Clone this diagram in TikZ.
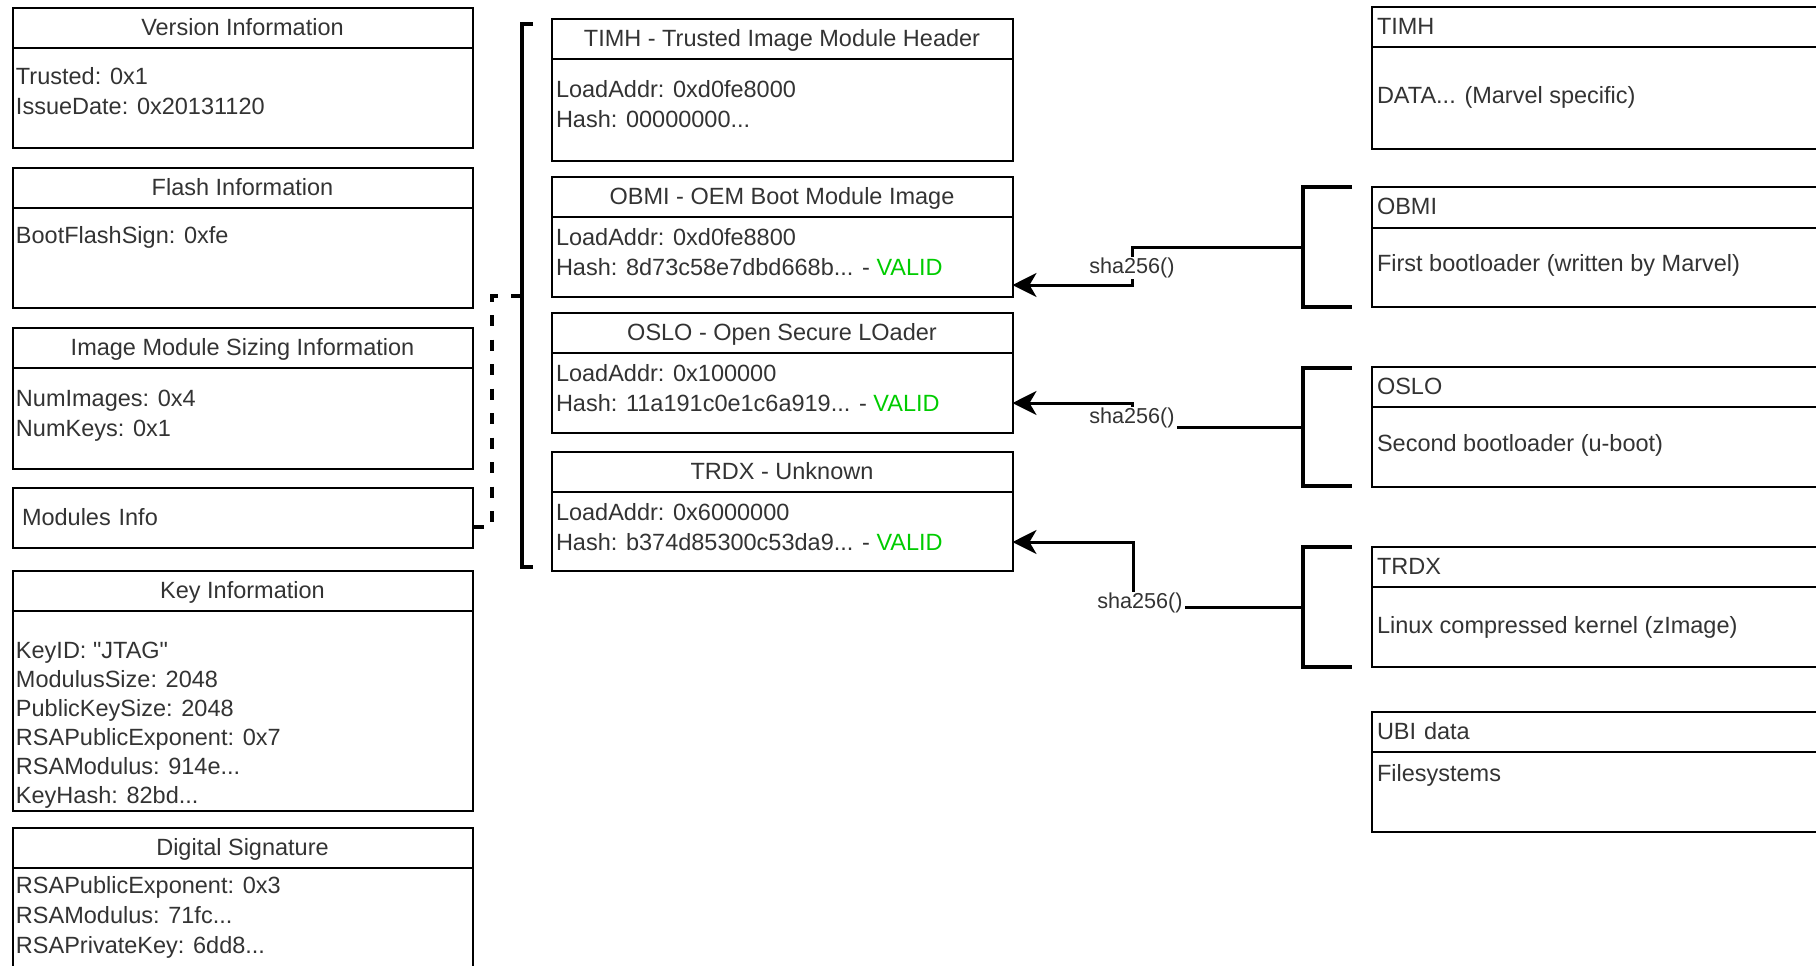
\documentclass[tikz,border=0pt]{standalone}
\usepackage{fontspec}
\setmainfont{Liberation Sans}
\usetikzlibrary{positioning,arrows.meta}
\definecolor{validgreen}{HTML}{00CC00}
\definecolor{inktext}{HTML}{333333}

\begin{document}
\begin{tikzpicture}[x=0.5pt, y=-0.5pt, every node/.style={inner sep=0pt, outer sep=0pt}]
\tikzset{
  sechead/.style={draw, line width=1pt, minimum height=20pt, text height=8.6pt, text depth=1.5pt, font=\fontsize{11.75}{14.5}\selectfont, text=inktext},
  leftcol/.style={minimum width=230pt},
  midcol/.style={minimum width=230.5pt},
  rightcol/.style={text width=224pt, inner xsep=2.5pt, align=left},
  secbody/.style={draw, line width=1pt},
  field/.style={anchor=base west, font=\fontsize{11.75}{14.5}\selectfont, text=inktext},
  hashlbl/.style={fill=white, font=\fontsize{10.8}{13}\selectfont, text height=7.8pt, text depth=2pt, inner xsep=1pt, inner ysep=0.5pt, text=inktext},
  hashlink/.style={line width=1.5pt, -{Stealth[length=12pt, width=12pt, inset=3.5pt]}},
  bracket/.style={line width=1.6pt},
  modlink/.style={line width=1.7pt, dash pattern=on 5.5pt off 6.75pt}
}
\clip (0,0) rectangle (1816,965);

% left column: header fields
\node[sechead, leftcol, anchor=north west] (verhd) at (12.5,8) {Version Information};
\node[secbody, leftcol, minimum height=50pt, below=0pt of verhd] (verbd) {};
\node[field] (vertrust) at (16,84) {Trusted: 0x1};
\node[field] (verdate) at (16,114) {IssueDate: 0x20131120};

\node[sechead, leftcol, anchor=north west] (flashhd) at (12.5,168) {Flash Information};
\node[secbody, leftcol, minimum height=50pt, below=0pt of flashhd] (flashbd) {};
\node[field] (flashsign) at (16,243) {BootFlashSign: 0xfe};

\node[sechead, leftcol, anchor=north west] (sizehd) at (12.5,328) {Image Module Sizing Information};
\node[secbody, leftcol, minimum height=50.5pt, below=0pt of sizehd] (sizebd) {};
\node[field] (sizeimg) at (16,406) {NumImages: 0x4};
\node[field] (sizekey) at (16,436) {NumKeys: 0x1};

\node[sechead, leftcol, anchor=north west, minimum height=30pt, text width=220.5pt, inner xsep=4.75pt, align=left] (modinfo) at (12.5,488) {Modules Info};

\node[sechead, leftcol, anchor=north west] (keyhd) at (12.5,571) {Key Information};
\node[secbody, leftcol, minimum height=100pt, below=0pt of keyhd] (keybd) {};
\foreach \t [count=\i from 0] in {KeyID: \textquotedbl JTAG\textquotedbl, ModulusSize: 2048, PublicKeySize: 2048, RSAPublicExponent: 0x7, RSAModulus: 914e.{}.{}., KeyHash: 82bd.{}.{}.}
  \node[field] (key\i) at (16,658+29*\i) {\t};

\node[sechead, leftcol, anchor=north west] (sighd) at (12.5,828) {Digital Signature};
\node[secbody, leftcol, minimum height=66pt, below=0pt of sighd] (sigbd) {};
\foreach \t [count=\i from 0] in {RSAPublicExponent: 0x3, RSAModulus: 71fc.{}.{}., RSAPrivateKey: 6dd8.{}.{}.}
  \node[field] (sig\i) at (16,893+30*\i) {\t};

% module table bracket
\draw[bracket] (533,24) -- (522,24) -- (522,567) -- (533,567);
\coordinate (tblbrmid) at (522,296);
\draw[modlink] (tblbrmid) -| (492,527) -- ([yshift=-4.5pt]modinfo.east);

% middle column: module entries
\node[sechead, midcol, anchor=north west] (timhhd) at (551.5,19) {TIMH - Trusted Image Module Header};
\node[secbody, midcol, minimum height=51pt, below=0pt of timhhd] (timhbd) {};
\node[field] (timhaddr) at (556,97) {LoadAddr: 0xd0fe8000};
\node[field] (timhhash) at (556,127) {Hash: 00000000...};

\node[sechead, midcol, anchor=north west] (obmihd) at (551.5,177) {OBMI - OEM Boot Module Image};
\node[secbody, midcol, minimum height=40pt, below=0pt of obmihd] (obmibd) {};
\node[field] (obmiaddr) at (556,245) {LoadAddr: 0xd0fe8800};
\node[field] (obmihash) at (556,275) {Hash: 8d73c58e7dbd668b... - \textcolor{validgreen}{VALID}};

\node[sechead, midcol, anchor=north west] (oslohd) at (551.5,313) {OSLO - Open Secure LOader};
\node[secbody, midcol, minimum height=40pt, below=0pt of oslohd] (oslobd) {};
\node[field] (osloaddr) at (556,381) {LoadAddr: 0x100000};
\node[field] (oslohash) at (556,411) {Hash: 11a191c0e1c6a919... - \textcolor{validgreen}{VALID}};

\node[sechead, midcol, anchor=north west] (trdxhd) at (551.5,452) {TRDX - Unknown};
\node[secbody, midcol, minimum height=39.5pt, below=0pt of trdxhd] (trdxbd) {};
\node[field] (trdxaddr) at (556,520) {LoadAddr: 0x6000000};
\node[field] (trdxhash) at (556,550) {Hash: b374d85300c53da9... - \textcolor{validgreen}{VALID}};

% right column: flash layout
\node[sechead, rightcol, anchor=north west] (fltimhhd) at (1372,7) {TIMH};
\node[secbody, minimum width=229pt, minimum height=51pt, below=0pt of fltimhhd] (fltimhbd) {};
\node[field] (fltimhtxt) at (1377,103) {DATA... (Marvel specific)};

\node[sechead, rightcol, anchor=north west, minimum height=20.5pt] (flobmihd) at (1372,187) {OBMI};
\node[secbody, minimum width=229pt, minimum height=39.5pt, below=0pt of flobmihd] (flobmibd) {};
\node[field] (flobmitxt) at (1377,271) {First bootloader (written by Marvel)};

\node[sechead, rightcol, anchor=north west] (floslohd) at (1372,367) {OSLO};
\node[secbody, minimum width=229pt, minimum height=40pt, below=0pt of floslohd] (floslobd) {};
\node[field] (floslotxt) at (1377,451) {Second bootloader (u-boot)};

\node[sechead, rightcol, anchor=north west] (fltrdxhd) at (1372,547) {TRDX};
\node[secbody, minimum width=229pt, minimum height=40pt, below=0pt of fltrdxhd] (fltrdxbd) {};
\node[field] (fltrdxtxt) at (1377,633) {Linux compressed kernel (zImage)};

\node[sechead, rightcol, anchor=north west] (flubihd) at (1372,712) {UBI data};
\node[secbody, minimum width=229pt, minimum height=40pt, below=0pt of flubihd] (flubibd) {};
\node[field] (flubitxt) at (1377,781) {Filesystems};

% brackets round the flash parts
\draw[bracket] (1352,187) -- (1303,187) -- (1303,307) -- (1352,307);
\draw[bracket] (1352,368) -- (1303,368) -- (1303,486) -- (1352,486);
\draw[bracket] (1352,547) -- (1303,547) -- (1303,667) -- (1352,667);
\coordinate (obmibr) at (1303,247);
\coordinate (oslobr) at (1303,427);
\coordinate (trdxbr) at (1303,607);

% hashes checked against the module table
\draw[hashlink] (obmibr) -| (1132,268) node[hashlbl] {sha256()} |- ([yshift=-14pt]obmibd.east);
\draw[hashlink] (oslobr) -| (1132,418) node[hashlbl] {sha256()} |- ([yshift=-5pt]oslobd.east);
\draw[hashlink] (trdxbr) -| (1133,603) node[hashlbl, xshift=3.5pt] {sha256()} |- ([yshift=-5.25pt]trdxbd.east);
\end{tikzpicture}
\end{document}
